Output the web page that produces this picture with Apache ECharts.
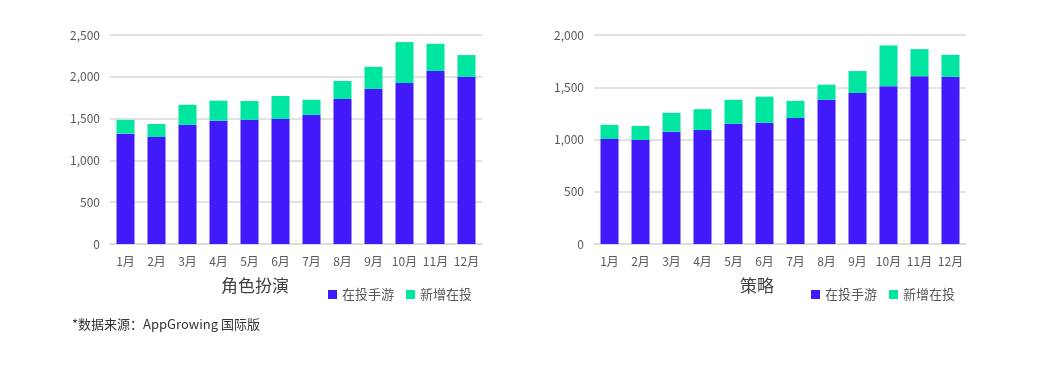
<!DOCTYPE html>
<html>
<head>
<meta charset="utf-8">
<script src="https://cdn.jsdelivr.net/npm/echarts@6/dist/echarts.min.js"></script>
<style>
  html, body { margin: 0; padding: 0; background: #fff; }
  #chart { width: 1049px; height: 377px; }
</style>
</head>
<body>
<div id="chart"></div>
<script>
const months = ['1月', '2月', '3月', '4月', '5月', '6月', '7月', '8月', '9月', '10月', '11月', '12月']

// 角色扮演
const rpgActive = [1320, 1280, 1425, 1475, 1485, 1495, 1545, 1735, 1855, 1925, 2070, 2000]
const rpgNew = [165, 155, 240, 240, 225, 275, 180, 215, 265, 490, 325, 260]

// 策略
const slgActive = [1005, 995, 1075, 1090, 1150, 1160, 1205, 1380, 1445, 1510, 1605, 1600]
const slgNew = [135, 135, 180, 200, 230, 250, 165, 145, 210, 390, 260, 210]

const seriesNames = ['在投手游', '新增在投']
const colors = ['#4219fa', '#00e5a0']
const font = '"Noto Sans CJK SC", "Noto Sans", sans-serif'

const chart = echarts.init(document.getElementById('chart'))

function xAxisOf(gridIndex) {
  return {
    type: 'category',
    gridIndex,
    data: months,
    axisTick: { show: false },
    axisLine: { lineStyle: { color: '#d9d9d9', width: 1.5 } },
    axisLabel: { color: '#595959', fontSize: 12, fontFamily: font, margin: 11, interval: 0 }
  }
}

function yAxisOf(gridIndex, max, interval) {
  return {
    type: 'value',
    gridIndex,
    min: 0,
    max,
    interval,
    axisLine: { show: false },
    axisTick: { show: false },
    splitLine: { lineStyle: { color: '#d9d9d9', width: 1.5 } },
    axisLabel: {
      color: '#595959',
      fontSize: 12,
      fontFamily: font,
      margin: 10,
      formatter: v => v.toLocaleString('en-US')
    }
  }
}

function barSeries(name, data, idx, axisIndex) {
  return {
    name,
    type: 'bar',
    stack: 'g' + axisIndex,
    xAxisIndex: axisIndex,
    yAxisIndex: axisIndex,
    barWidth: 18,
    itemStyle: { color: colors[idx] },
    data
  }
}

const legendBase = {
  data: seriesNames,
  icon: 'rect',
  itemWidth: 9,
  itemHeight: 9,
  itemGap: 12,
  top: 283,
  textStyle: { color: '#595959', fontSize: 13, fontFamily: font }
}

chart.setOption({
  animation: false,
  color: colors,
  title: [
    { text: '角色扮演', left: 221, top: 277, padding: 0, textStyle: { fontSize: 17, fontWeight: 'normal', color: '#404040', fontFamily: font } },
    { text: '策略', left: 740, top: 277, padding: 0, textStyle: { fontSize: 17, fontWeight: 'normal', color: '#404040', fontFamily: font } }
  ],
  legend: [
    Object.assign({}, legendBase, { left: 323 }),
    Object.assign({}, legendBase, { left: 806 })
  ],
  grid: [
    { left: 110, right: 567, top: 35, bottom: 133 },
    { left: 594, right: 83, top: 35, bottom: 133 }
  ],
  xAxis: [xAxisOf(0), xAxisOf(1)],
  yAxis: [yAxisOf(0, 2500, 500), yAxisOf(1, 2000, 500)],
  series: [
    barSeries(seriesNames[0], rpgActive, 0, 0),
    barSeries(seriesNames[1], rpgNew, 1, 0),
    barSeries(seriesNames[0], slgActive, 0, 1),
    barSeries(seriesNames[1], slgNew, 1, 1)
  ],
  graphic: [{
    type: 'text',
    left: 72,
    top: 318,
    style: { text: '*数据来源：AppGrowing 国际版', fill: '#333', font: '13px ' + font }
  }]
})
</script>
</body>
</html>
